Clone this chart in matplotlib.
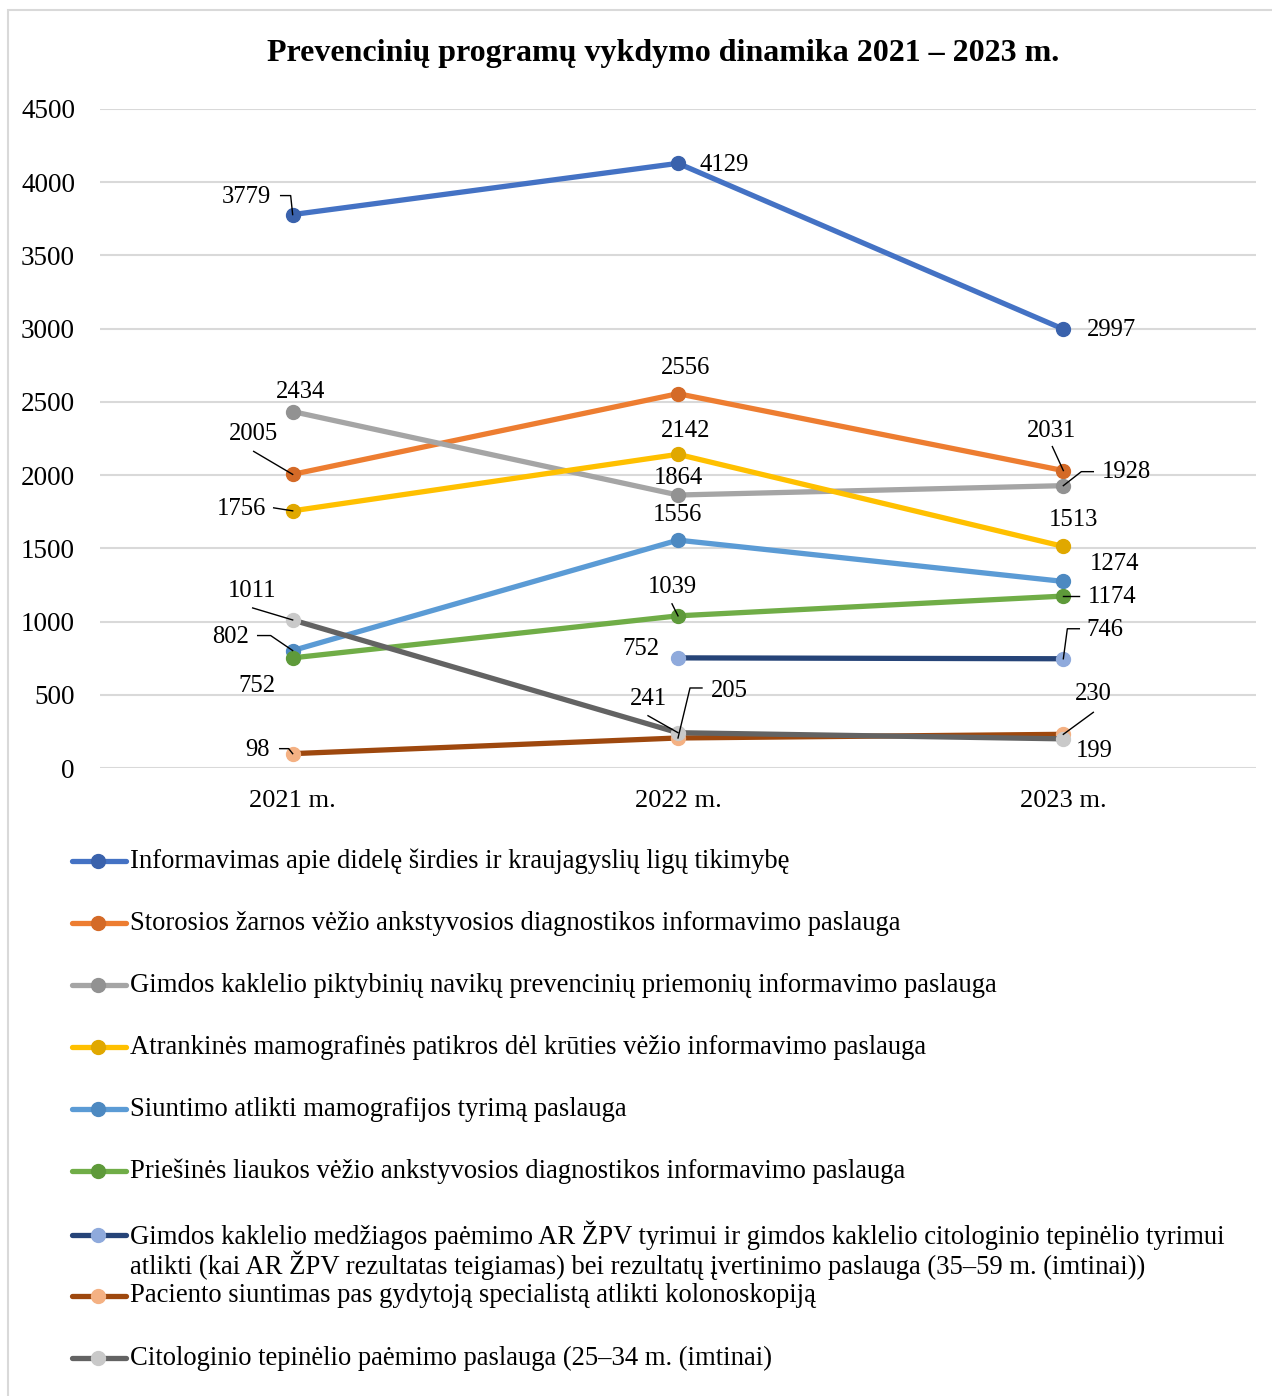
import matplotlib
matplotlib.use("Agg")
import matplotlib.pyplot as plt
from matplotlib.lines import Line2D
from matplotlib.patches import Rectangle
import numpy as np

plt.rcParams['font.family'] = ['Liberation Serif', 'DejaVu Serif']

years = ["2021 m.", "2022 m.", "2023 m."]
yticks = [0, 500, 1000, 1500, 2000, 2500, 3000, 3500, 4000, 4500]
title = "Prevencinių programų vykdymo dinamika 2021 – 2023 m."

names = [
    "Informavimas apie didelę širdies ir kraujagyslių ligų tikimybę",
    "Storosios žarnos vėžio ankstyvosios diagnostikos informavimo paslauga",
    "Gimdos kaklelio piktybinių navikų prevencinių priemonių informavimo paslauga",
    "Atrankinės mamografinės patikros dėl krūties vėžio informavimo paslauga",
    "Siuntimo atlikti mamografijos tyrimą paslauga",
    "Priešinės liaukos vėžio ankstyvosios diagnostikos informavimo paslauga",
    "Gimdos kaklelio medžiagos paėmimo AR ŽPV tyrimui ir gimdos kaklelio citologinio tepinėlio tyrimui\n"
    "atlikti (kai AR ŽPV rezultatas teigiamas) bei rezultatų įvertinimo paslauga (35–59 m. (imtinai))",
    "Paciento siuntimas pas gydytoją specialistą atlikti kolonoskopiją",
    "Citologinio tepinėlio paėmimo paslauga (25–34 m. (imtinai)",
]

informavimas = [3779, 4129, 2997]
storosios = [2005, 2556, 2031]
gimdos_pikt = [2434, 1864, 1928]
atrankines = [1756, 2142, 1513]
siuntimo = [802, 1556, 1274]
priesines = [752, 1039, 1174]
gimdos_medz = [np.nan, 752, 746]
paciento = [98, 205, 230]
citologinio = [1011, 241, 199]
series = [informavimas, storosios, gimdos_pikt, atrankines, siuntimo,
          priesines, gimdos_medz, paciento, citologinio]

line_colors = ["#4472C4", "#ED7D31", "#A5A5A5", "#FFC000", "#5B9BD5",
               "#70AD47", "#264478", "#9E480E", "#636363"]
marker_colors = ["#3A62AC", "#D46A27", "#929292", "#E0A800", "#4D89C1",
                 "#5E9A3A", "#8FAADC", "#F4B183", "#C9C9C9"]

# label layout: (series, point idx) -> (text px offset dx, dy [image coords], ha, leader vertices offsets)
label_layout = {
    (0, 0): (-22, -18, 'right', [(-12, -19), (-2, -19), (0, 0)]),
    (0, 1): (22, 2, 'left', None),
    (0, 2): (24, 1, 'left', None),
    (1, 0): (-39, -40, 'center', [(-39, -23), (0, 0)]),
    (1, 1): (8, -26, 'center', None),
    (1, 2): (-12, -40, 'center', [(-11, -24), (0, 0)]),
    (2, 0): (8, -20, 'center', None),
    (2, 1): (0, -17, 'center', None),
    (2, 2): (38, -14, 'left', [(30, -14), (18, -14), (0, 0)]),
    (3, 0): (-26, -2, 'right', [(-19, -3), (0, 0)]),
    (3, 1): (8, -23, 'center', None),
    (3, 2): (10, -26, 'center', None),
    (4, 0): (-62, -14, 'center', [(-35, -15), (-22, -15), (0, 0)]),
    (4, 1): (-1, -25, 'center', None),
    (4, 2): (51, -17, 'center', None),
    (5, 0): (-36, 28, 'center', None),
    (5, 1): (-6, -29, 'center', [(-6, -12), (0, 0)]),
    (5, 2): (49, 1, 'center', [(16, 0), (0, 0)]),
    (6, 1): (-18, -9, 'right', None),
    (6, 2): (42, -29, 'center', [(16, -30), (4, -30), (0, 0)]),
    (7, 0): (-35, -4, 'center', [(-13, -5), (-4, -5), (0, 0)]),
    (7, 1): (51, -47, 'center', [(24, -50), (12, -50), (0, 0)]),
    (7, 2): (30, -40, 'center', [(30, -22), (0, 0)]),
    (8, 0): (-41, -29, 'center', [(-40, -12), (0, 0)]),
    (8, 1): (-30, -34, 'center', [(-30, -17), (0, 0)]),
    (8, 2): (31, 12, 'center', None),
}

W, H = 1272, 1396
fig = plt.figure(figsize=(W / 100, H / 100), dpi=100)
fig.patch.set_facecolor("white")

# chart border (left and top edges visible)
fig.add_artist(Rectangle((8 / W, -0.05), (1290 - 8) / W, (H - 10) / H + 0.05,
                         transform=fig.transFigure, fill=False,
                         edgecolor="#D9D9D9", lw=1.5))

ax_l, ax_r, ax_t, ax_b = 100, 1256, 109, 768
ax = fig.add_axes([ax_l / W, 1 - ax_b / H, (ax_r - ax_l) / W, (ax_b - ax_t) / H])
ax.set_xlim(-0.5, 2.5)
ax.set_ylim(0, 4500)
ax.set_yticks(yticks)
ax.set_yticklabels([str(t) for t in yticks], fontsize=19.5)
ax.set_xticks(range(len(years)))
ax.set_xticklabels(years, fontsize=19)
ax.tick_params(axis='both', length=0)
ax.tick_params(axis='y', pad=18)
ax.tick_params(axis='x', pad=16)
for s in ax.spines.values():
    s.set_visible(False)
ax.grid(axis='y', color="#D9D9D9", lw=1.5)
ax.set_axisbelow(True)

x = np.arange(len(years))
for i, vals in enumerate(series):
    ax.plot(x, vals, color=line_colors[i], lw=3.8, marker='o', ms=10,
            mfc=marker_colors[i], mec=marker_colors[i], solid_capstyle='round',
            zorder=3 + i * 0.01)

fig.canvas.draw()
tr = ax.transData
for (si, pi), (dx, dy, ha, leader) in label_layout.items():
    v = series[si][pi]
    ax.annotate(str(int(v)), xy=(pi, v), xytext=(dx, -dy), textcoords='offset pixels',
                ha=ha, va='center', fontsize=17.7, color="black", zorder=10)
    if leader:
        px, py = tr.transform((pi, v))
        xs = [px + a for a, b in leader]
        ys = [py - b for a, b in leader]
        fig.add_artist(Line2D(xs, ys, transform=None, color="black", lw=1.0, zorder=11))

fig.text(663 / W, 1 - 54 / H, title, ha='center', va='center',
         fontsize=23, fontweight='bold')

# legend
legend_y = [861, 923, 985, 1047, 1109, 1171, 1235, 1296, 1358]
for i, name in enumerate(names):
    yy = 1 - legend_y[i] / H
    fig.add_artist(Line2D([72 / W, 126 / W], [yy, yy], transform=fig.transFigure,
                          color=line_colors[i], lw=3.8, solid_capstyle='round'))
    fig.add_artist(Line2D([98 / W], [yy], transform=fig.transFigure, marker='o', ms=10,
                          mfc=marker_colors[i], mec=marker_colors[i], lw=0))
    if '\n' in name:
        first, second = name.split('\n')
        fig.text(130 / W, yy, first, ha='left', va='center', fontsize=19.2)
        fig.text(130 / W, 1 - 1265 / H, second, ha='left', va='center', fontsize=19.2)
    else:
        fig.text(130 / W, yy, name, ha='left', va='center', fontsize=19.2)

fig.savefig("out.png", dpi=100, facecolor="white")
